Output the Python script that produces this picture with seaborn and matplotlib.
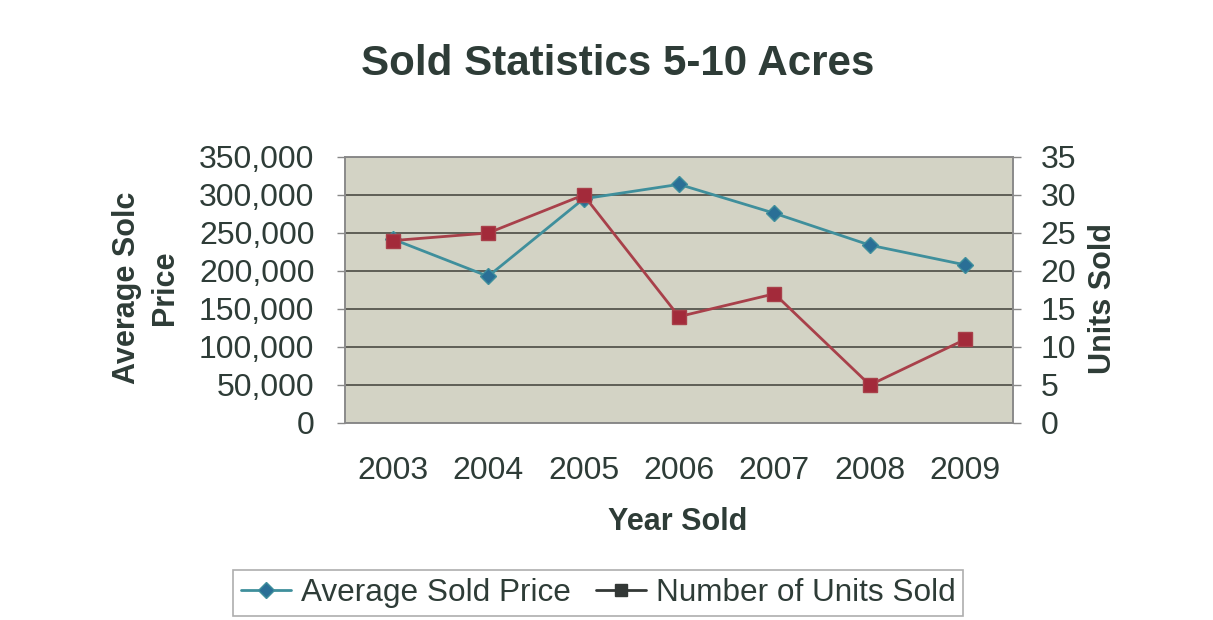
import matplotlib
matplotlib.use("Agg")
import matplotlib.pyplot as plt
from matplotlib.lines import Line2D
from matplotlib.ticker import FuncFormatter, MultipleLocator, FixedLocator
import seaborn as sns
import pandas as pd

years = ["2003", "2004", "2005", "2006", "2007", "2008", "2009"]
avg_price = [242000, 193000, 295000, 314000, 276000, 234000, 208000]
units_sold = [24, 25, 30, 14, 17, 5, 11]

df = pd.DataFrame({"Year": years, "Price": avg_price, "Units": units_sold})

sns.set_theme(style="white")
plt.rcParams["font.family"] = ["Liberation Sans", "DejaVu Sans"]
TXT = "#2e3c37"

fig = plt.figure(figsize=(12.13, 6.2), dpi=100)
ax = fig.add_axes([345 / 1213, 1 - 423 / 620, (1013 - 345) / 1213, (423 - 157) / 620])
ax2 = ax.twinx()

BLUE_L = "#3f8f9c"
BLUE_M = "#2a6f96"
RED_L = "#a8404a"
RED_M = "#a32a3a"

sns.lineplot(data=df, x="Year", y="Price", ax=ax, color=BLUE_L, linewidth=2,
             marker="D", markersize=8.5, markerfacecolor=BLUE_M, markeredgecolor=BLUE_L,
             markeredgewidth=1)
sns.lineplot(data=df, x="Year", y="Units", ax=ax2, color=RED_L, linewidth=2,
             marker="s", markersize=9.5, markerfacecolor=RED_M, markeredgecolor=RED_L,
             markeredgewidth=1)

ax.set_facecolor("#d3d3c5")
ax.set_xlim(-0.5, len(years) - 0.5)
ax.set_ylim(0, 350000)
ax2.set_ylim(0, 35)
ax.yaxis.set_major_locator(MultipleLocator(50000))
ax2.yaxis.set_major_locator(MultipleLocator(5))
ax.yaxis.set_major_formatter(FuncFormatter(lambda v, p: f"{int(v):,}"))
ax.grid(axis="y", color="#5e5e56", linewidth=1.4)
ax.grid(axis="x", visible=False)
ax2.grid(False)
ax.set_axisbelow(True)

ax.xaxis.set_minor_locator(FixedLocator([i - 0.5 for i in range(len(years) + 1)]))
ax.tick_params(axis="x", which="major", length=0, pad=24, labelsize=23, labelcolor=TXT)
ax.tick_params(axis="x", which="minor", length=9, width=1, color="#888888", direction="out")
ax.tick_params(axis="y", length=6, width=1, color="#888888", direction="out", pad=16,
               labelsize=23, labelcolor=TXT, left=True)
ax2.tick_params(axis="y", length=6, width=1, color="#888888", direction="out", pad=14,
                labelsize=23, labelcolor=TXT, right=True)

for a in (ax, ax2):
    for s in a.spines.values():
        s.set_color("#8a8a8a")
        s.set_linewidth(1.2)
        s.set_visible(True)

ax.set_xlabel("")
ax.set_ylabel("")
ax2.set_ylabel("")

fig.text(618 / 1213, 1 - 64 / 620, "Sold Statistics 5-10 Acres", ha="center", va="center",
         fontsize=30.3, fontweight="bold", color=TXT)
fig.text(678 / 1213, 1 - 522 / 620, "Year Sold", ha="center", va="center",
         fontsize=22, fontweight="bold", color=TXT)
fig.text(146 / 1213, 1 - 288 / 620, "Average Solc\nPrice", ha="center", va="center",
         rotation=90, fontsize=22, fontweight="bold", color=TXT, multialignment="center",
         linespacing=1.35)
fig.text(1103 / 1213, 1 - 298 / 620, "Units Sold", ha="center", va="center",
         rotation=90, fontsize=22, fontweight="bold", color=TXT)

h1 = Line2D([], [], color=BLUE_L, linewidth=2, marker="D", markersize=8,
            markerfacecolor=BLUE_M, markeredgecolor=BLUE_L)
h2 = Line2D([], [], color="#333836", linewidth=2, marker="s", markersize=8,
            markerfacecolor="#333836", markeredgecolor="#333836")
leg = fig.legend([h1, h2], ["Average Sold Price", "Number of Units Sold"],
                 loc="center", bbox_to_anchor=(598 / 1213, 1 - 593 / 620), ncol=2,
                 fontsize=22.7, frameon=True, fancybox=False, handlelength=1.6,
                 handletextpad=0.3, columnspacing=0.8, borderpad=0.25,
                 labelcolor=TXT)
leg.get_frame().set_edgecolor("#9a9a9a")
leg.get_frame().set_linewidth(1.2)

fig.savefig("out.png", dpi=100)
